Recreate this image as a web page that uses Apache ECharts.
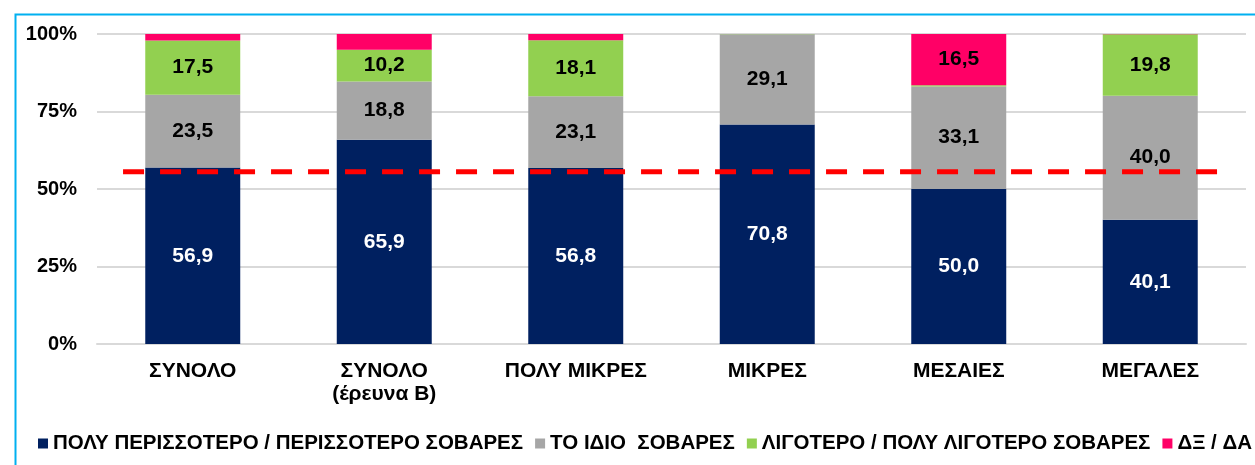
<!DOCTYPE html>
<html><head><meta charset="utf-8">
<script src="https://cdn.jsdelivr.net/npm/echarts@6/dist/echarts.min.js"></script>
<style>html,body{margin:0;padding:0;background:#fff}#c{width:1255px;height:465px}</style>
</head><body><div id="c"></div>
<script>
const categories = ['ΣΥΝΟΛΟ', 'ΣΥΝΟΛΟ\n(έρευνα Β)', 'ΠΟΛΥ ΜΙΚΡΕΣ', 'ΜΙΚΡΕΣ', 'ΜΕΣΑΙΕΣ', 'ΜΕΓΑΛΕΣ'];
const seriesNames = ['ΠΟΛΥ ΠΕΡΙΣΣΟΤΕΡΟ / ΠΕΡΙΣΣΟΤΕΡΟ ΣΟΒΑΡΕΣ', 'ΤΟ ΙΔΙΟ  ΣΟΒΑΡΕΣ', 'ΛΙΓΟΤΕΡΟ / ΠΟΛΥ ΛΙΓΟΤΕΡΟ ΣΟΒΑΡΕΣ', 'ΔΞ / ΔΑ'];
const moreSerious = [56.9, 65.9, 56.8, 70.8, 50.0, 40.1];
const sameSerious = [23.5, 18.8, 23.1, 29.1, 33.1, 40.0];
const lessSerious = [17.5, 10.2, 18.1, 0.1, 0.4, 19.8];
const dkna = [2.1, 5.1, 2.0, 0, 16.5, 0.1];
const referenceValue = 55.6;
const referenceSpan = [0.136, 5.9];
const colors = ['#002060', '#A6A6A6', '#92D050', '#FF0066'];
const values = [moreSerious, sameSerious, lessSerious, dkna];

const chart = echarts.init(document.getElementById('c'), null, {renderer: 'canvas'});
const font = '"Liberation Sans", Arial, sans-serif';
const series = values.map((arr, i) => ({
  name: seriesNames[i],
  type: 'bar',
  stack: 'total',
  barWidth: '49.6%',
  itemStyle: {color: colors[i]},
  label: {
    show: true,
    position: 'inside',
    color: i === 0 ? '#FFFFFF' : '#000000',
    fontFamily: font,
    fontWeight: 'bold',
    fontSize: 21,
    formatter: p => (p.value >= 8) ? p.value.toFixed(1).replace('.', ',') : ''
  },
  data: arr
}));
series.push({
  name: 'ref',
  type: 'line',
  xAxisIndex: 1,
  symbol: 'none',
  silent: true,
  lineStyle: {color: '#FF0000', width: 5, type: [21, 16]},
  data: [[referenceSpan[0], referenceValue], [referenceSpan[1], referenceValue]],
  z: 5
});
chart.setOption({
  animation: false,
  color: colors,
  graphic: [{
    type: 'rect', left: 13, top: 12,
    shape: {width: 1400, height: 600},
    style: {fill: 'none', stroke: '#00B0F0', lineWidth: 2}
  }],
  legend: {
    data: seriesNames,
    left: 33, top: 428, width: 2000,
    itemWidth: 10, itemHeight: 10, itemGap: 12,
    icon: 'rect',
    textStyle: {fontFamily: font, fontWeight: 'bold', fontSize: 20.5, color: '#000'}
  },
  grid: {left: 97, right: 9, top: 34, bottom: 121, containLabel: false},
  xAxis: [{
    type: 'category',
    data: categories,
    axisLine: {lineStyle: {color: '#D9D9D9', width: 2}},
    axisTick: {show: false},
    axisLabel: {fontFamily: font, fontWeight: 'bold', fontSize: 21, color: '#000', margin: 16, lineHeight: 23}
  }, {
    type: 'value', min: 0, max: 6, show: false
  }],
  yAxis: {
    type: 'value', min: 0, max: 100, interval: 25,
    axisLine: {show: false}, axisTick: {show: false},
    splitLine: {lineStyle: {color: '#D9D9D9', width: 2}},
    axisLabel: {fontFamily: font, fontWeight: 'bold', fontSize: 20, color: '#000', margin: 20, formatter: v => v + '%'}
  },
  series: series
});
</script></body></html>
